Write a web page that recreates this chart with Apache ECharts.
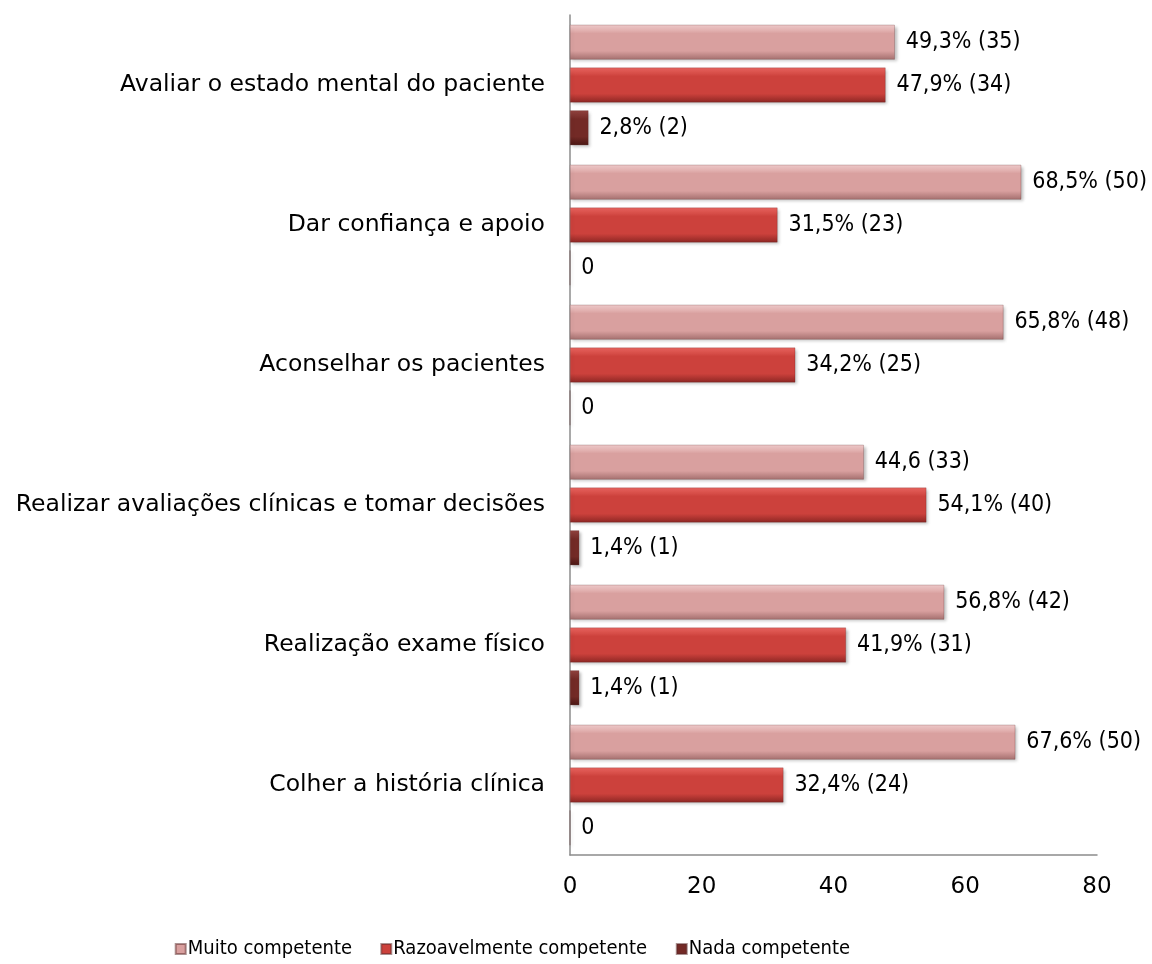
<!DOCTYPE html>
<html>
<head>
<meta charset="utf-8">
<script src="https://cdn.jsdelivr.net/npm/echarts@6/dist/echarts.min.js"></script>
<style>
html,body{margin:0;padding:0;background:#fff;}
#chart{width:1152px;height:964px;}
</style>
</head>
<body>
<div id="chart"></div>
<script>
const categories = [
  "Colher a história clínica",
  "Realização exame físico",
  "Realizar avaliações clínicas e tomar decisões",
  "Aconselhar os pacientes",
  "Dar confiança e apoio",
  "Avaliar o estado mental do paciente"
];
const seriesNames = ["Muito competente", "Razoavelmente competente", "Nada competente"];
const muitoValues = [67.6, 56.8, 44.6, 65.8, 68.5, 49.3];
const razoValues = [32.4, 41.9, 54.1, 34.2, 31.5, 47.9];
const nadaValues = [0, 1.4, 1.4, 0, 0, 2.8];
const muitoLabels = ["67,6% (50)", "56,8% (42)", "44,6 (33)", "65,8% (48)", "68,5% (50)", "49,3% (35)"];
const razoLabels = ["32,4% (24)", "41,9% (31)", "54,1% (40)", "34,2% (25)", "31,5% (23)", "47,9% (34)"];
const nadaLabels = ["0", "1,4% (1)", "1,4% (1)", "0", "0", "2,8% (2)"];
const xTicks = [0, 20, 40, 60, 80];

const FONT = "DejaVu Sans";
const FONT_C = "DejaVu Sans Condensed";
function grad(c1, c2, c3) {
  return new echarts.graphic.LinearGradient(0, 0, 0, 1, [
    {offset: 0, color: c1}, {offset: 0.25, color: c2}, {offset: 0.75, color: c2}, {offset: 1, color: c3}
  ]);
}
const colors = [
  grad('#f3cfcf', '#d9a09f', '#a46f6e'),
  grad('#ec6660', '#cc413c', '#8e2724'),
  grad('#934440', '#732a26', '#4b1714')
];
const legendColors = ['#d9a09f', '#cc413c', '#732a26'];
const valuesList = [muitoValues, razoValues, nadaValues];
const labelsList = [muitoLabels, razoLabels, nadaLabels];

const chart = echarts.init(document.getElementById('chart'), null, {renderer: 'canvas'});
const series = seriesNames.map((name, i) => ({
  name: name,
  type: 'bar',
  data: valuesList[i],
  barGap: '23%',
  barCategoryGap: '14%',
  itemStyle: {color: colors[i], borderColor: 'rgba(90,40,40,0.5)', borderWidth: 0.5, shadowColor: 'rgba(0,0,0,0.25)', shadowBlur: 3, shadowOffsetX: 2, shadowOffsetY: 2},
  label: {
    show: true, position: 'right', distance: 11,
    fontFamily: FONT_C, fontSize: 23, color: '#000',
    formatter: p => labelsList[i][p.dataIndex]
  }
}));

const legendRights = [800, 505, 302];
const legends = seriesNames.map((n, i) => ({
  data: [{name: n, itemStyle: {color: legendColors[i]}}],
  right: legendRights[i], top: 939, padding: 0,
  icon: 'rect', itemWidth: 10, itemHeight: 10, itemGap: 0,
  textStyle: {fontFamily: FONT_C, fontSize: 20, color: '#000', padding: [0, 0, 0, -3]}
}));

chart.setOption({
  animation: false,
  backgroundColor: '#fff',
  grid: {left: 570, right: 55, top: 15, bottom: 109, containLabel: false},
  legend: legends,
  xAxis: {
    type: 'value', min: 0, max: 80, interval: 20,
    axisLine: {show: true, lineStyle: {color: '#8c8c8c', width: 1.5}},
    axisTick: {show: false},
    splitLine: {show: false},
    axisLabel: {fontFamily: FONT, fontSize: 23, color: '#000', margin: 21,
      formatter: v => xTicks.includes(v) ? String(v) : ''}
  },
  yAxis: {
    type: 'category', data: categories,
    axisLine: {show: true, lineStyle: {color: '#8c8c8c', width: 1.5}},
    axisTick: {show: false},
    axisLabel: {fontFamily: FONT, fontSize: 23.5, color: '#000', margin: 25}
  },
  series: series
});
</script>
</body>
</html>
